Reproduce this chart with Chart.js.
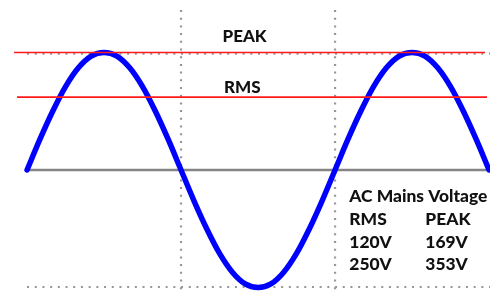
<!DOCTYPE html>
<html>
<head>
<meta charset="utf-8">
<script src="https://cdn.jsdelivr.net/npm/chart.js@4.4.1/dist/chart.umd.min.js"></script>
<style>
  html,body{margin:0;padding:0;background:#fff;}
  #wrap{width:490px;height:293px;}
</style>
</head>
<body>
<div id="wrap"><canvas id="c" width="490" height="293"></canvas></div>
<script>
// phase angle (degrees) and normalised voltage
const degrees = [0,15,30,45,60,75,90,105,120,135,150,165,180,195,210,225,240,255,270,285,300,315,330,345,360,375,390,405,420,435,450,465,480,495,510,525,540];
const wave    = [0,0.26,0.5,0.71,0.87,0.97,1,0.97,0.87,0.71,0.5,0.26,0,-0.26,-0.5,-0.71,-0.87,-0.97,-1,-0.97,-0.87,-0.71,-0.5,-0.26,0,0.26,0.5,0.71,0.87,0.97,1,0.97,0.87,0.71,0.5,0.26,0];
const peakLevel = 1;
const rmsLevel = 0.62;
const zeroLevel = 0;
const troughLevel = -1;
const gridX = [180, 360];
const levelLabels = ['PEAK', 'RMS'];
const tableTitle = 'AC Mains Voltage';
const tableHead = ['RMS', 'PEAK'];
const tableRms = ['120V', '250V'];
const tablePeak = ['169V', '353V'];

const xMin = -31.6, xMax = 541.1;
const yMin = -1.047, yMax = 1.447;

const dotted = {borderColor:'#969696', borderWidth:2.2, borderDash:[2,5.7], borderCapStyle:'butt', pointRadius:0, fill:false, order:3};

const datasets = [
  // red reference lines (top)
  {data:[{x:-15.2,y:peakLevel},{x:535.3,y:peakLevel}], borderColor:'#ff1a1a', borderWidth:1.6, pointRadius:0, order:0},
  {data:[{x:-11.7,y:rmsLevel},{x:537.6,y:rmsLevel}], borderColor:'#ff1a1a', borderWidth:1.6, pointRadius:0, order:0},
  // sine wave
  {data: degrees.map((d,i)=>({x:d,y:wave[i]})), borderColor:'#0000ff', borderWidth:5.5, borderCapStyle:'round', borderJoinStyle:'round', cubicInterpolationMode:'monotone', pointRadius:0, order:1},
  // zero line
  {data:[{x:0,y:zeroLevel},{x:xMax,y:zeroLevel}], borderColor:'#858585', borderWidth:2.5, pointRadius:0, order:2},
  // dotted grid
  Object.assign({data:[{x:0,y:peakLevel-0.01},{x:xMax,y:peakLevel-0.01}]}, dotted),
  Object.assign({data:[{x:0,y:troughLevel+0.004},{x:xMax,y:troughLevel+0.004}]}, dotted),
  Object.assign({data:[{x:gridX[0],y:1.362},{x:gridX[0],y:yMin}]}, dotted),
  Object.assign({data:[{x:gridX[1],y:1.362},{x:gridX[1],y:yMin}]}, dotted)
];

const textPlugin = {
  id:'texts',
  afterDraw(chart){
    const ctx = chart.ctx;
    ctx.save();
    ctx.fillStyle = '#111111';
    ctx.textBaseline = 'alphabetic';
    ctx.textAlign = 'left';
    ctx.font = '900 17px Lato';
    ctx.fillText(levelLabels[0], 222.5, 41.7);
    ctx.fillText(levelLabels[1], 224, 93.3);
    ctx.font = '900 17.4px Lato';
    ctx.fillText(tableTitle, 349.3, 202);
    ctx.fillText(tableHead[0], 349.3, 225.3);
    ctx.fillText(tableHead[1], 425.3, 225.3);
    ctx.fillText(tableRms[0], 349.3, 247.5);
    ctx.fillText(tablePeak[0], 425.3, 247.5);
    ctx.fillText(tableRms[1], 349.3, 270.3);
    ctx.fillText(tablePeak[1], 425.3, 270.3);
    ctx.restore();
  }
};

new Chart(document.getElementById('c'), {
  type:'line',
  data:{datasets},
  options:{
    responsive:false,
    animation:false,
    layout:{padding:0},
    plugins:{legend:{display:false}, tooltip:{enabled:false}},
    elements:{line:{tension:0}},
    scales:{
      x:{type:'linear', min:xMin, max:xMax, display:false},
      y:{type:'linear', min:yMin, max:yMax, display:false}
    }
  },
  plugins:[textPlugin]
});
</script>
</body>
</html>
